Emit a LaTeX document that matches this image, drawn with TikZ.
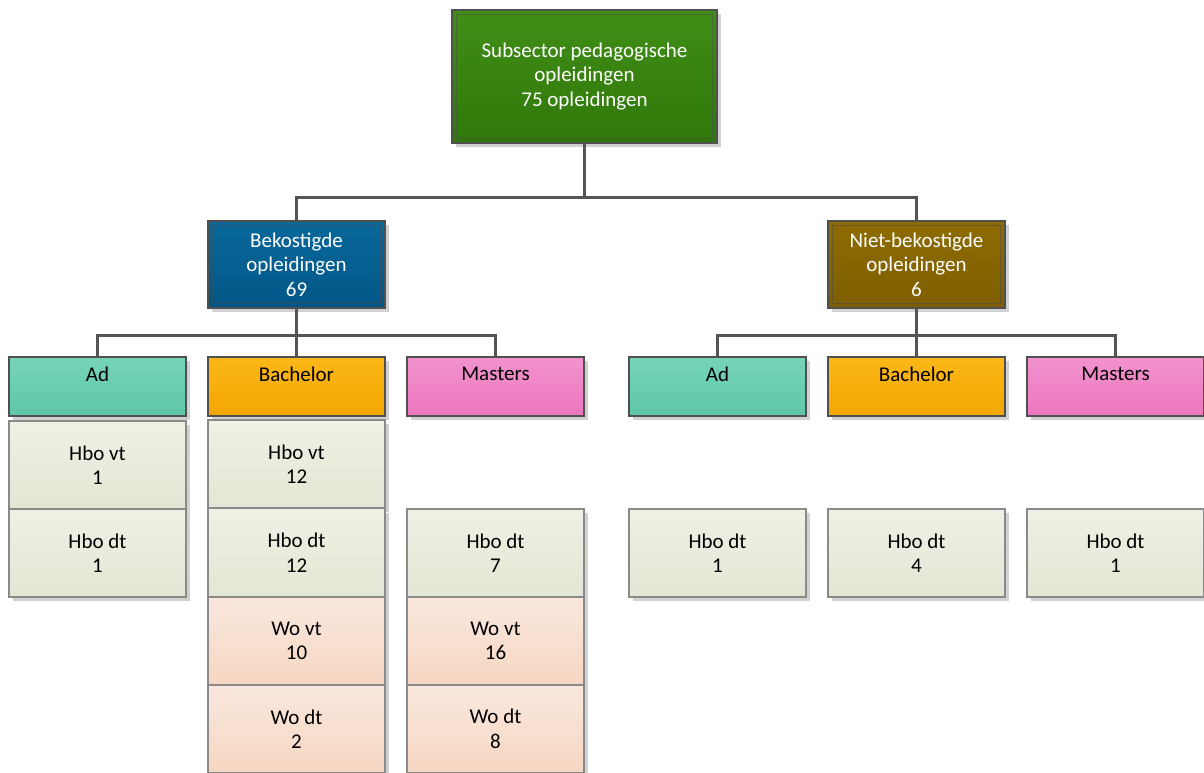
\documentclass[tikz,border=0pt]{standalone}
\usepackage{fontspec}
\setmainfont{Carlito}
\usetikzlibrary{shadows}
\definecolor{conncol}{HTML}{555555}
\definecolor{edgecol}{HTML}{505050}
\definecolor{paleedge}{HTML}{8A8A8A}
\tikzset{
  every node/.style={font=\fontsize{21}{24.5}\selectfont, align=center, inner sep=0pt},
  basebox/.style={rectangle, line width=1.3pt,
     drop shadow={shadow xshift=4pt, shadow yshift=-4pt, fill=black!18, opacity=1}},
  headbox/.style={basebox, draw=edgecol, text=white},
  catbox/.style={basebox, draw=edgecol, minimum width=177pt, minimum height=59pt},
  cellbox/.style={basebox, draw=paleedge, minimum width=177pt, minimum height=88pt},
  hbocell/.style={cellbox, top color={rgb,255:red,238;green,241;blue,229}, bottom color={rgb,255:red,226;green,231;blue,212}},
  wocell/.style={cellbox, top color={rgb,255:red,250;green,232;blue,222}, bottom color={rgb,255:red,245;green,214;blue,194}},
  conn/.style={draw=conncol, line width=2.4pt},
  innerline/.style={draw=black!70, draw opacity=0.55, line width=0.9pt},
}
\begin{document}
\begin{tikzpicture}[x=1pt,y=-1pt]
\useasboundingbox (0,0) rectangle (1204,772);
% top
\node[headbox, minimum width=265pt, minimum height=133pt,
  top color={rgb,255:red,64;green,142;blue,22}, bottom color={rgb,255:red,48;green,120;blue,10}]
  (top) at (584.5,76.5) {Subsector pedagogische\\opleidingen\\75 opleidingen};
\node[headbox, minimum width=177pt, minimum height=87pt,
  top color={rgb,255:red,10;green,104;blue,156}, bottom color={rgb,255:red,0;green,86;blue,134}]
  (bek) at (296.5,264.5) {Bekostigde\\opleidingen\\69};
\node[headbox, minimum width=177pt, minimum height=87pt,
  top color={rgb,255:red,142;green,108;blue,2}, bottom color={rgb,255:red,126;green,94;blue,0}]
  (nbek) at (916.5,264.5) {Niet-bekostigde\\opleidingen\\6};
\foreach \n in {top,bek,nbek}{
  \draw[innerline] ([shift={(5pt,5pt)}]\n.south west) rectangle ([shift={(-5pt,-5pt)}]\n.north east);
}
% connectors
\draw[conn] (top.south) -- +(0,-54pt) -| (bek.north);
\draw[conn] (top.south) -- +(0,-54pt) -| (nbek.north);
% categories
\tikzset{
  adcol/.style={top color={rgb,255:red,118;green,212;blue,187}, bottom color={rgb,255:red,94;green,198;blue,168}},
  bacol/.style={top color={rgb,255:red,252;green,184;blue,24}, bottom color={rgb,255:red,242;green,166;blue,0}},
  macol/.style={top color={rgb,255:red,242;green,146;blue,205}, bottom color={rgb,255:red,236;green,118;blue,190}},
}
\node[catbox, adcol] (ad1) at (97.5,386.5) {Ad\\~};
\node[catbox, bacol] (ba1) at (296.5,386.5) {Bachelor\\~};
\node[catbox, macol] (ma1) at (495.5,386.5) {Masters\\~};
\node[catbox, adcol] (ad2) at (717.5,386.5) {Ad\\~};
\node[catbox, bacol] (ba2) at (916.5,386.5) {Bachelor\\~};
\node[catbox, macol] (ma2) at (1115.5,386.5) {Masters\\~};
\draw[conn] (bek.south) -- +(0,-27pt) -| (ad1.north);
\draw[conn] (bek.south) -- +(0,-27pt) -| (ba1.north);
\draw[conn] (bek.south) -- +(0,-27pt) -| (ma1.north);
\draw[conn] (nbek.south) -- +(0,-27pt) -| (ad2.north);
\draw[conn] (nbek.south) -- +(0,-27pt) -| (ba2.north);
\draw[conn] (nbek.south) -- +(0,-27pt) -| (ma2.north);
% cells
\node[hbocell] (adv1) at (97.5,465) {Hbo vt\\1};
\node[hbocell] (add1) at (97.5,553) {Hbo dt\\1};
\node[hbocell] (bav1) at (296.5,464) {Hbo vt\\12};
\node[hbocell] (bad1) at (296.5,552.5) {Hbo dt\\12};
\node[wocell] (bwv1) at (296.5,641) {Wo vt\\10};
\node[wocell] (bwd1) at (296.5,729) {Wo dt\\2};
\node[hbocell] (mad1) at (495.5,553) {Hbo dt\\7};
\node[wocell] (mwv1) at (495.5,641) {Wo vt\\16};
\node[wocell] (mwd1) at (495.5,729) {Wo dt\\8};
\node[hbocell] (add2) at (717.5,553) {Hbo dt\\1};
\node[hbocell] (bad2) at (916.5,553) {Hbo dt\\4};
\node[hbocell] (mad2) at (1115.5,553) {Hbo dt\\1};
\end{tikzpicture}
\end{document}
